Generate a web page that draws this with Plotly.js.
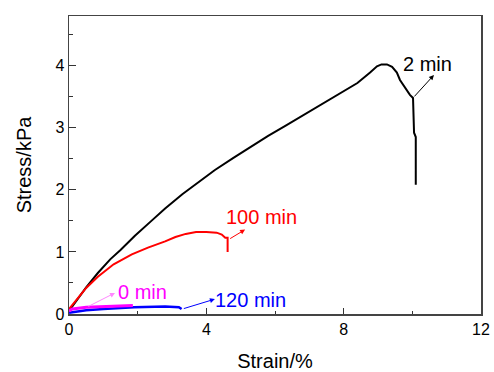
<!DOCTYPE html>
<html>
<head>
<meta charset="utf-8">
<script src="https://cdn.plot.ly/plotly-3.0.1.min.js"></script>
<style>html,body{margin:0;padding:0;background:#fff;}#chart{width:494px;height:372px;}</style>
</head>
<body>
<div id="chart"></div>
<script>
// 2 min
const strain2 = [0, 0.2, 0.5, 0.84, 1.2, 1.5, 1.92, 2.4, 2.8, 3.3, 3.82, 4.25, 4.8, 5.27, 5.8, 6.3, 6.73, 7.3, 7.89, 8.4, 8.77, 8.97, 9.1, 9.26, 9.41, 9.55, 9.64, 9.79, 9.93, 10.02, 10.03, 10.05, 10.1, 10.1];
const stress2 = [0.05, 0.2, 0.43, 0.66, 0.88, 1.03, 1.26, 1.5, 1.7, 1.93, 2.14, 2.32, 2.52, 2.69, 2.87, 3.03, 3.17, 3.36, 3.55, 3.72, 3.89, 3.99, 4.02, 4.02, 3.98, 3.89, 3.77, 3.65, 3.53, 3.48, 3.2, 2.92, 2.85, 2.08];
// 100 min
const strain100 = [0, 0.2, 0.5, 0.84, 1.3, 1.83, 2.3, 2.8, 3.1, 3.4, 3.7, 4.0, 4.3, 4.45, 4.55, 4.62, 4.62];
const stress100 = [0.08, 0.22, 0.42, 0.6, 0.8, 0.96, 1.07, 1.17, 1.24, 1.29, 1.32, 1.32, 1.31, 1.28, 1.23, 1.23, 1.0];
// 0 min
const strain0 = [0, 0.1, 0.5, 1.0, 1.86];
const stress0 = [0.05, 0.08, 0.11, 0.12, 0.135];
// 120 min
const strain120 = [0, 0.5, 1.0, 1.9, 2.8, 3.2, 3.28];
const stress120 = [0.02, 0.06, 0.08, 0.11, 0.12, 0.11, 0.08];

const xTicks = [0, 4, 8, 12];
const yTicks = [0, 1, 2, 3, 4];

const font = 'Liberation Sans, Arial, sans-serif';
const traces = [
  {x: strain2, y: stress2, mode: 'lines', line: {color: '#000000', width: 2}},
  {x: strain100, y: stress100, mode: 'lines', line: {color: '#ff0000', width: 2}},
  {x: strain120, y: stress120, mode: 'lines', line: {color: '#0000ff', width: 2.5}},
  {x: strain0, y: stress0, mode: 'lines', line: {color: '#ff00ff', width: 3}}
];

function arrow(x, y, ax, ay, color, w) {
  return {x: x, y: y, ax: ax, ay: ay, xref: 'x', yref: 'y', axref: 'x', ayref: 'y',
    text: '', showarrow: true, arrowhead: 2, arrowsize: 1, arrowwidth: w, arrowcolor: color, standoff: 0, startstandoff: 0};
}
function label(x, y, t, color) {
  return {x: x, y: y, xref: 'x', yref: 'y', text: t, showarrow: false,
    font: {family: font, size: 20, color: color}};
}

const layout = {
  width: 494, height: 372,
  margin: {l: 69, r: 13, t: 16, b: 58},
  paper_bgcolor: '#fff', plot_bgcolor: '#fff',
  showlegend: false,
  font: {family: font, color: '#000'},
  xaxis: {
    range: [0, 12], tickvals: xTicks, ticktext: xTicks.map(String),
    ticks: 'inside', ticklen: 6, tickwidth: 1, tickcolor: '#333',
    minor: {dtick: 2, ticks: 'inside', ticklen: 3, tickcolor: '#333', tickwidth: 1},
    showline: true, linecolor: '#444', linewidth: 1.5, mirror: true,
    showgrid: false, zeroline: false,
    tickfont: {family: font, size: 16, color: '#000'},
    title: {text: 'Strain/%', font: {family: font, size: 20, color: '#000'}, standoff: 22}
  },
  yaxis: {
    range: [0, 4.8], tickvals: yTicks, ticktext: yTicks.map(String),
    ticks: 'inside', ticklen: 7, tickwidth: 1, tickcolor: '#333',
    minor: {dtick: 0.5, ticks: 'inside', ticklen: 4, tickcolor: '#333', tickwidth: 1},
    showline: true, linecolor: '#444', linewidth: 1.5, mirror: true,
    showgrid: false, zeroline: false,
    tickfont: {family: font, size: 16, color: '#000'},
    title: {text: 'Stress/kPa', font: {family: font, size: 20, color: '#000'}, standoff: 18}
  },
  annotations: [
    arrow(10.63, 3.85, 10.02, 3.48, '#000000', 1),
    label(10.45, 4.03, '2 min', '#000000'),
    arrow(5.13, 1.36, 4.65, 1.2, '#ff0000', 1),
    label(5.6, 1.56, '100 min', '#ff0000'),
    arrow(1.34, 0.34, 0.52, 0.11, '#ff88ff', 1),
    label(2.13, 0.35, '0 min', '#ff00ff'),
    arrow(4.25, 0.24, 3.3, 0.08, '#0000ff', 1),
    label(5.3, 0.23, '120 min', '#0000ff')
  ]
};

Plotly.newPlot('chart', traces, layout, {displayModeBar: false, staticPlot: true});
</script>
</body>
</html>
